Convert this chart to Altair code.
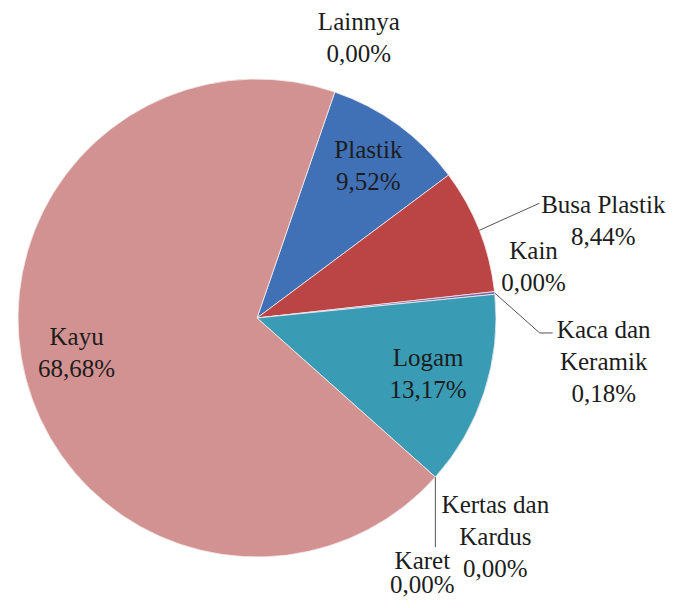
import math
import altair as alt
import pandas as pd

# ---- data ----
categories = ["Plastik", "Busa Plastik", "Kain", "Kaca dan Keramik", "Logam",
              "Kertas dan Kardus", "Karet", "Kayu", "Lainnya"]
values = [9.52, 8.44, 0.00, 0.18, 13.17, 0.00, 0.00, 68.68, 0.00]
label_names = ["Plastik", "Busa Plastik", "Kain", "Kaca dan\nKeramik", "Logam",
               "Kertas dan\nKardus", "Karet", "Kayu", "Lainnya"]
colors = ["#4070B5", "#BA4544", "#9BBB59", "#8064A2", "#3A9BB5",
          "#F79646", "#2C4D75", "#D39292", "#772C2A"]

# ---- styling / layout ----
R = 239                      # pie radius in px
A0 = math.radians(19)        # start angle of the first slice (clockwise from 12 o'clock)
FONT = "Liberation Serif"
LH = 32                      # normal line height
LH_TIGHT = 24                # line height for the "Karet" label
# label placement (block centre): (radius fraction, dx, dy) relative to slice mid-angle point
label_pos = {
    "Plastik": (0.79, 0, 0),
    "Busa Plastik": (1.0, 124, -9),
    "Kain": (1.0, 39, -25),
    "Kaca dan Keramik": (1.0, 109, 69),
    "Logam": (0.753, 0, 0),
    "Kertas dan Kardus": (1.0, 60, 60),
    "Karet": (1.0, -13, 96),
    "Kayu": (0.78, 0, -12),
    "Lainnya": (1.0, 24, -54),
}
tight = {"Karet"}
# leader lines: (dx, dy) from slice edge, then horizontal tail length
leaders = {
    "Busa Plastik": (60, -27, 0),
    "Kaca dan Keramik": (45, 40, 13),
    "Kertas dan Kardus": (0, 70, 0),
}

def fmt(v):
    return f"{v:.2f}".replace(".", ",") + "%"

txts = [n + "\n" + fmt(v) for n, v in zip(label_names, values)]
# place the first line so that the whole block is centred on the target point
first_dy = []
for c, t in zip(categories, txts):
    n = t.count("\n") + 1
    lh = LH_TIGHT if c in tight else LH
    first_dy.append(label_pos[c][2] - (n - 1) * lh / 2)

df = pd.DataFrame({
    "category": categories,
    "value": values,
    "order": list(range(len(categories))),
    "txt": txts,
    "lr": [label_pos[c][0] for c in categories],
    "ldx": [label_pos[c][1] for c in categories],
    "ldy": first_dy,
    "tight": [1 if c in tight else 0 for c in categories],
    "lead": [1 if c in leaders else 0 for c in categories],
    "kdx": [leaders.get(c, (0, 0, 0))[0] for c in categories],
    "kdy": [leaders.get(c, (0, 0, 0))[1] for c in categories],
    "tail": [leaders.get(c, (0, 0, 0))[2] for c in categories],
})

base = alt.Chart(df)

arcs = base.transform_filter("datum.value > 0").mark_arc(
    stroke="#f4eeee", strokeWidth=0.8
).encode(
    theta=alt.Theta("value:Q", stack=True,
                    scale=alt.Scale(range=[A0, A0 + 2 * math.pi])),
    color=alt.Color("category:N",
                    scale=alt.Scale(domain=categories, range=colors),
                    legend=None),
    order=alt.Order("order:Q"),
)

geo = base.transform_joinaggregate(
    total="sum(value)"
).transform_window(
    cum="sum(value)", sort=[alt.SortField("order")], frame=[None, 0]
).transform_calculate(
    ang=f"{A0} + 2*PI*(datum.cum - datum.value/2)/datum.total"
)

label_geo = geo.transform_calculate(
    lx=f"{R} + datum.lr*{R}*sin(datum.ang) + datum.ldx",
    ly=f"{R} - datum.lr*{R}*cos(datum.ang) + datum.ldy",
)

def label_layer(filt, lh):
    return label_geo.transform_filter(filt).mark_text(
        font=FONT, fontSize=25, lineHeight=lh, lineBreak="\n",
        align="center", baseline="middle", color="#1c1c1c"
    ).encode(
        x=alt.X("lx:Q", scale=None, axis=None),
        y=alt.Y("ly:Q", scale=None, axis=None),
        text="txt:N",
    )

labels = label_layer("datum.tight == 0", LH)
labels_tight = label_layer("datum.tight == 1", LH_TIGHT)

lead_geo = geo.transform_filter("datum.lead == 1").transform_calculate(
    ex=f"{R} + {R}*sin(datum.ang)",
    ey=f"{R} - {R}*cos(datum.ang)",
).transform_calculate(
    ex2="datum.ex + datum.kdx",
    ey2="datum.ey + datum.kdy",
).transform_calculate(
    ex3="datum.ex2 + datum.tail",
)

lead1 = lead_geo.mark_rule(color="#555555", strokeWidth=1).encode(
    x=alt.X("ex:Q", scale=None, axis=None),
    y=alt.Y("ey:Q", scale=None, axis=None),
    x2="ex2:Q", y2="ey2:Q",
)
lead2 = lead_geo.transform_filter("datum.tail > 0").mark_rule(
    color="#555555", strokeWidth=1
).encode(
    x=alt.X("ex2:Q", scale=None, axis=None),
    y=alt.Y("ey2:Q", scale=None, axis=None),
    x2="ex3:Q", y2="ey2:Q",
)

chart = alt.layer(arcs, lead1, lead2, labels, labels_tight).properties(
    width=2 * R, height=2 * R,
    padding={"left": 10, "top": 71, "right": 171, "bottom": 45},
    autosize=alt.AutoSizeParams(type="none"),
).configure_view(stroke=None)

chart.save("out.html", embed_options={"renderer": "svg", "actions": False})
